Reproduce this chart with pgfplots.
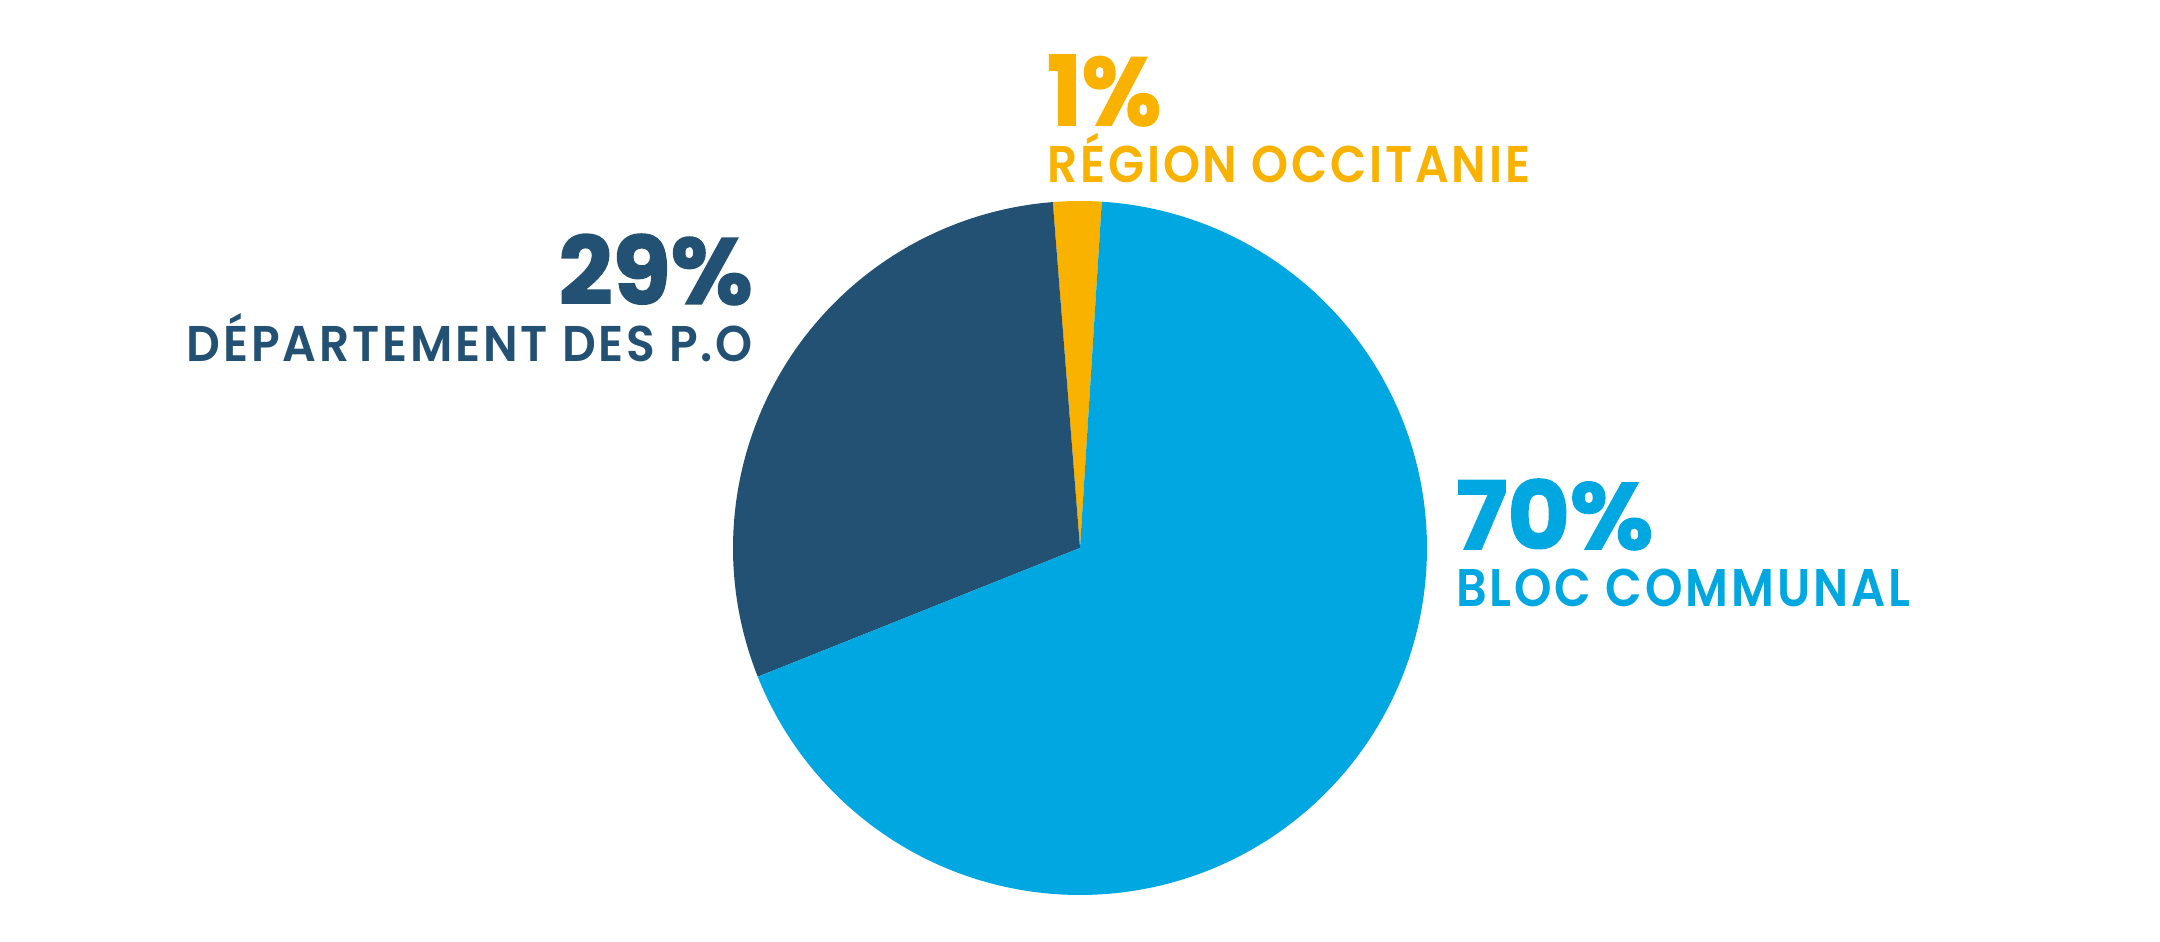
\documentclass[border=0pt]{standalone}
\usepackage{pgfplots}
\pgfplotsset{compat=1.18}
\usepackage{pgfplotstable}
\usepackage{graphicx}
\usepackage{fontspec}
\setmainfont{Poppins}[BoldFont={* Bold}]
\newfontfamily\labfont{Poppins}[UprightFont={* SemiBold},LetterSpace=6]
\newfontfamily\numfont{Poppins}[UprightFont={* Bold},FakeBold=1.6]
\definecolor{cblue}{RGB}{0,167,225}
\definecolor{cdark}{RGB}{35,81,115}
\definecolor{cyellow}{RGB}{249,178,0}

% share of the full turn as drawn (percent), starting at 86.4 deg, counter-clockwise
\pgfplotstableread{
name      share label
region     2.25   1
dept      29.80  29
bloc      67.95  70
}\piedata

\begin{document}
\begin{tikzpicture}
\pgfplotstablegetelem{0}{share}\of\piedata \let\sA\pgfplotsretval
\pgfplotstablegetelem{1}{share}\of\piedata \let\sB\pgfplotsretval
\pgfplotstablegetelem{2}{share}\of\piedata \let\sC\pgfplotsretval
\pgfmathsetmacro{\aZero}{86.4}
\pgfmathsetmacro{\aOne}{\aZero+3.6*\sA}
\pgfmathsetmacro{\aTwo}{\aOne+3.6*\sB}
\pgfmathsetmacro{\aThree}{\aTwo+3.6*\sC}
\begin{axis}[
  x=1pt, y=1pt,
  xmin=0, xmax=2160, ymin=0, ymax=942,
  hide axis, clip=false,
  anchor=origin, at={(0,0)},
]
\path (rel axis cs:0,0) rectangle (rel axis cs:1,1);
\addplot[fill=cyellow, draw=none, domain=\aZero:\aOne, samples=20]
  ({1080+347*cos(x)}, {394+347*sin(x)}) -- (axis cs:1080,394) -- cycle;
\addplot[fill=cdark, draw=none, domain=\aOne:\aTwo, samples=120]
  ({1080+347*cos(x)}, {394+347*sin(x)}) -- (axis cs:1080,394) -- cycle;
\addplot[fill=cblue, draw=none, domain=\aTwo:\aThree, samples=240]
  ({1080+347*cos(x)}, {394+347*sin(x)}) -- (axis cs:1080,394) -- cycle;

% labels (y measured from top: 942 - y)
\node[anchor=base west, inner sep=0, text=cyellow] at (axis cs:1047,{942-125})
  {\resizebox{114pt}{70pt}{\numfont 1\%}};
\node[anchor=base west, inner sep=0, text=cyellow] at (axis cs:1047,{942-183})
  {\resizebox{483pt}{\height}{\fontsize{51.6}{60}\labfont RÉGION OCCITANIE}};
\node[anchor=base east, inner sep=0, text=cdark] at (axis cs:753,{942-304})
  {\resizebox{194pt}{70pt}{\numfont 29\%}};
\node[anchor=base east, inner sep=0, text=cdark] at (axis cs:753,{942-362})
  {\resizebox{566pt}{\height}{\fontsize{50.2}{60}\labfont DÉPARTEMENT DES P.O}};
\node[anchor=base west, inner sep=0, text=cblue] at (axis cs:1456,{942-549})
  {\resizebox{197pt}{70pt}{\numfont 70\%}};
\node[anchor=base west, inner sep=0, text=cblue] at (axis cs:1456,{942-607})
  {\resizebox{454pt}{\height}{\fontsize{53}{60}\labfont BLOC COMMUNAL}};
\end{axis}
\end{tikzpicture}
\end{document}
